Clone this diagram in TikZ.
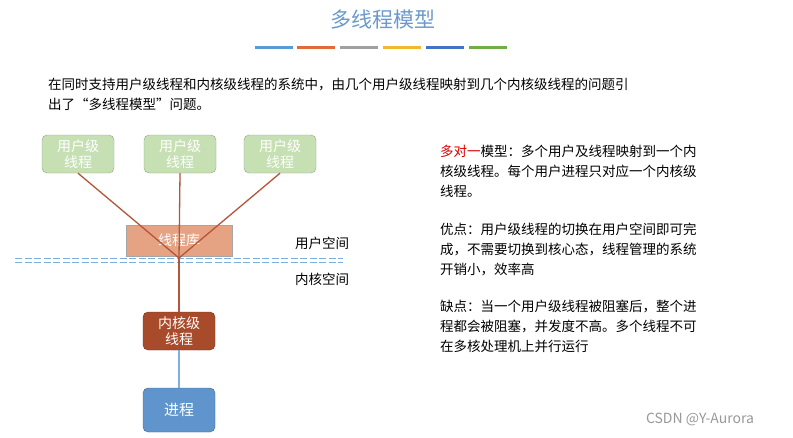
\documentclass[tikz,border=0pt]{standalone}
\usepackage{fontspec}
\setmainfont{Noto Sans CJK SC}
\definecolor{ugreen}{HTML}{C6E0B4}
\definecolor{ugb}{HTML}{8FA888}
\definecolor{libc}{HTML}{E6A384}
\definecolor{kc}{HTML}{A84B2B}
\definecolor{pc}{HTML}{5F95CC}
\definecolor{lc}{HTML}{B5553A}
\definecolor{b1}{HTML}{5B9BD5}
\definecolor{b2}{HTML}{E06A3A}
\definecolor{b3}{HTML}{A0A0A0}
\definecolor{b4}{HTML}{F2B830}
\definecolor{b5}{HTML}{4472C4}
\definecolor{b6}{HTML}{70AD47}
\definecolor{tc}{HTML}{6A9ACD}
\begin{document}
\begin{tikzpicture}[x=1pt,y=-1pt,
  ubox/.style={draw=ugb,fill=ugreen,rounded corners=5pt,minimum width=72pt,minimum height=38pt,text=white,font=\fontsize{14}{16}\selectfont,align=center,inner sep=1pt},
  link/.style={draw=lc,line width=1.3pt},
  txt/.style={anchor=north west,align=left,font=\fontsize{13.5}{20}\selectfont,inner sep=0}]
\useasboundingbox[fill=white] (0,0) rectangle (793,437);
\node[text=tc,font=\fontsize{21}{24}\selectfont] (title) at (383,20) {多线程模型};
\foreach \x/\c in {255/b1,297/b2,340/b3,383/b4,426/b5,469/b6}
  \fill[\c] (\x,45.5) rectangle ++(38,3.5);
\node[txt,text width=700pt] (para) at (48,78) {在同时支持用户级线程和内核级线程的系统中，由几个用户级线程映射到几个内核级线程的问题引\\出了“多线程模型”问题。};
\node[ubox] (u1) at (78,154) {用户级\\线程};
\node[ubox] (u2) at (180,154) {用户级\\线程};
\node[ubox] (u3) at (280,154) {用户级\\线程};
\node[draw=gray!70,fill=libc,minimum width=106pt,minimum height=31pt,text=white,font=\fontsize{14}{16}\selectfont] (lib) at (179,240.5) {线程库};
\draw[b1!80,line width=1pt,dash pattern=on 7pt off 2.5pt] (15,258.5) -- (343,258.5) (15,262) -- (343,262);
\coordinate (j) at (179,258);
\node[font=\fontsize{13.5}{16}\selectfont] (us) at (322,243) {用户空间};
\node[font=\fontsize{13.5}{16}\selectfont] (ks) at (322,279) {内核空间};
\node[draw=kc!70!black,fill=kc,rounded corners=5pt,minimum width=72pt,minimum height=38pt,text=white,font=\fontsize{14}{16}\selectfont,align=center,inner sep=1pt] (k) at (179,331) {内核级\\线程};
\node[draw=pc!70!black,fill=pc,rounded corners=5pt,minimum width=72pt,minimum height=44pt,text=white,font=\fontsize{15}{16}\selectfont] (p) at (179,410) {进程};
\draw[link] (u1.south) -- (j);
\draw[link] (u2.south) -- (j);
\draw[link] (u3.south) -- (j);
\draw[link] (j) -- (k.north);
\draw[b1!80,line width=1.3pt] (k.south) -- (p.north);
\node[txt] (t1) at (440,145) {\textcolor{red!85!black}{多对一}模型：多个用户及线程映射到一个内\\核级线程。每个用户进程只对应一个内核级\\线程。};
\node[txt] (t2) at (440,223) {优点：用户级线程的切换在用户空间即可完\\成，不需要切换到核心态，线程管理的系统\\开销小，效率高};
\node[txt] (t3) at (440,300) {缺点：当一个用户级线程被阻塞后，整个进\\程都会被阻塞，并发度不高。多个线程不可\\在多核处理机上并行运行};
\node[text=gray!80,font=\fontsize{14}{16}\selectfont] (wm) at (700,419) {CSDN @Y-Aurora};
\end{tikzpicture}
\end{document}
